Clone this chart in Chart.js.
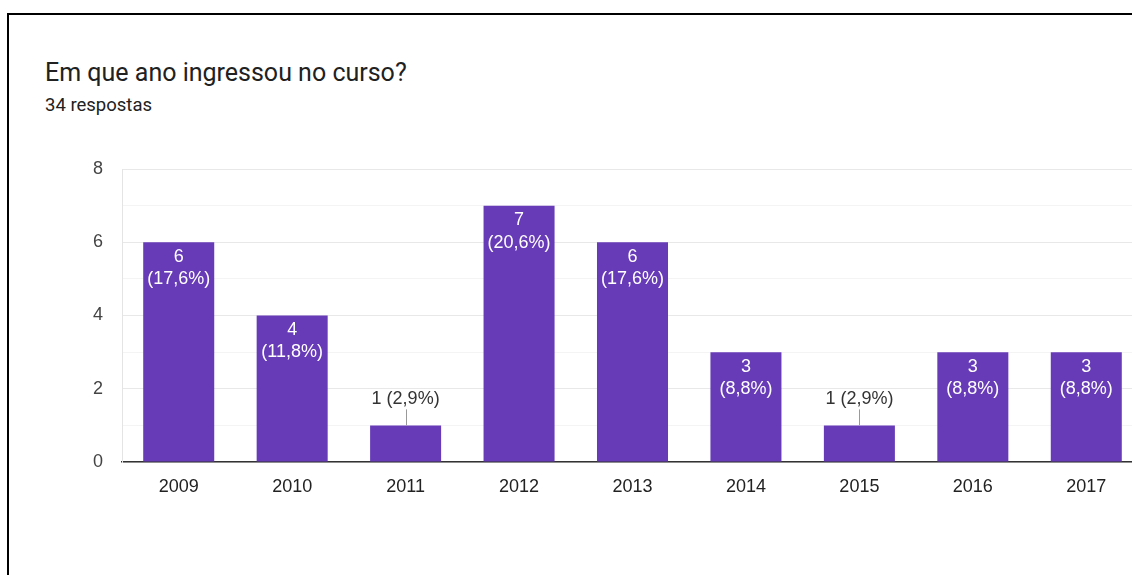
<!DOCTYPE html>
<html>
<head>
<meta charset="utf-8">
<script src="https://cdn.jsdelivr.net/npm/chart.js@4.4.1/dist/chart.umd.min.js"></script>
<style>
  html, body { margin: 0; padding: 0; background: #fff; overflow: hidden; width: 1132px; height: 575px; }
  .frame { position: absolute; left: 7px; top: 13px; width: 2000px; height: 2000px; border-top: 2px solid #000; border-left: 2px solid #000; }
  .title { position: absolute; left: 45px; top: 60px; font: 25px/25px Roboto, sans-serif; color: #212121; white-space: nowrap; }
  .sub { position: absolute; left: 45px; top: 96px; font: 18.5px/18.5px Roboto, sans-serif; color: #212121; white-space: nowrap; }
  .wrap { position: absolute; left: 0; top: 0; width: 1200px; height: 575px; }
</style>
</head>
<body>
<div class="frame"></div>
<div class="title">Em que ano ingressou no curso?</div>
<div class="sub">34 respostas</div>
<div class="wrap"><canvas id="c" width="1200" height="575"></canvas></div>
<script>
// Anos de ingresso e número de respostas por ano
const anos = ['2009', '2010', '2011', '2012', '2013', '2014', '2015', '2016', '2017'];
const respostas = [6, 4, 1, 7, 6, 3, 1, 3, 3];
const totalRespostas = 34;
const yTicks = [0, 2, 4, 6, 8];

const LABEL_FONT = '18px "Liberation Sans", Arial, sans-serif';

function pct(v) {
  return (v / totalRespostas * 100).toFixed(1).replace('.', ',') + '%';
}

// Rótulos de valor: dentro da barra (branco) ou acima, com linha guia
const valueLabels = {
  id: 'valueLabels',
  afterDatasetsDraw(chart) {
    const ctx = chart.ctx;
    const meta = chart.getDatasetMeta(0);
    ctx.save();
    ctx.font = LABEL_FONT;
    ctx.textAlign = 'center';
    ctx.textBaseline = 'middle';
    meta.data.forEach((bar, i) => {
      const v = respostas[i];
      const h = bar.base - bar.y;
      if (h > 50) {
        ctx.fillStyle = '#ffffff';
        ctx.fillText(String(v), bar.x, bar.y + 14.5);
        ctx.fillText('(' + pct(v) + ')', bar.x, bar.y + 37);
      } else {
        ctx.strokeStyle = '#999999';
        ctx.lineWidth = 1;
        ctx.beginPath();
        ctx.moveTo(Math.round(bar.x) + 0.5, bar.y - 16);
        ctx.lineTo(Math.round(bar.x) + 0.5, bar.y);
        ctx.stroke();
        ctx.fillStyle = '#333333';
        ctx.fillText(v + ' (' + pct(v) + ')', bar.x, bar.y - 26);
      }
    });
    ctx.restore();
  }
};

new Chart(document.getElementById('c'), {
  type: 'bar',
  data: {
    labels: anos,
    datasets: [{
      data: respostas,
      backgroundColor: '#673ab7',
      borderWidth: 0,
      barPercentage: 0.626,
      categoryPercentage: 1.0
    }]
  },
  options: {
    responsive: false,
    animation: false,
    events: [],
    layout: { padding: { left: 0, top: 169, right: 57, bottom: 0 } },
    plugins: { legend: { display: false }, tooltip: { enabled: false } },
    scales: {
      x: {
        grid: { display: false, drawTicks: false },
        border: { display: true, color: '#333333', width: 1.5 },
        ticks: { color: '#222222', font: { family: '"Liberation Sans", Arial, sans-serif', size: 18 }, padding: 14 },
        afterFit(s) { s.height = 113; }
      },
      y: {
        min: 0,
        max: 8,
        grid: {
          drawTicks: false,
          color: (c) => (c.tick && c.tick.value % 2 === 0) ? '#e8e8e8' : '#f4f4f4'
        },
        border: { display: true, color: '#e4e4e4' },
        ticks: {
          stepSize: 1,
          autoSkip: false,
          color: '#444444',
          font: { family: '"Liberation Sans", Arial, sans-serif', size: 18 },
          padding: 19,
          callback: (v) => yTicks.includes(v) ? String(v) : ''
        },
        afterFit(s) { s.width = 122; }
      }
    }
  },
  plugins: [valueLabels]
});
</script>
</body>
</html>
